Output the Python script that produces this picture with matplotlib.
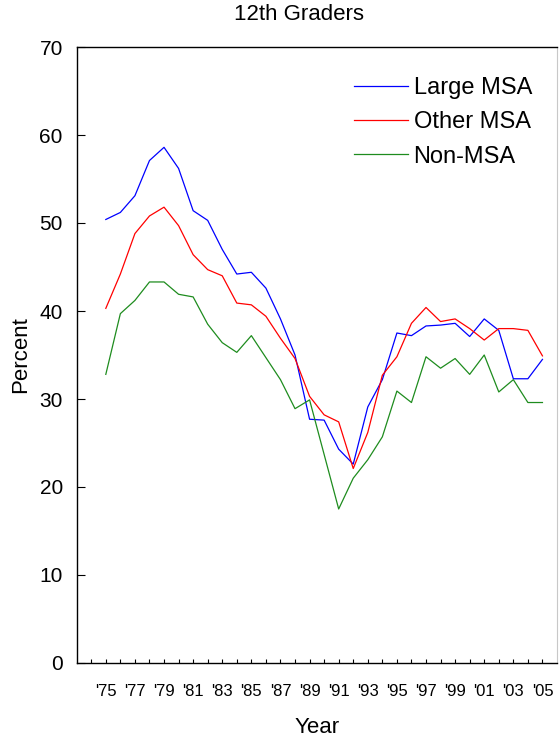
import numpy as np
import matplotlib
matplotlib.use("Agg")
import matplotlib.pyplot as plt
from matplotlib.ticker import MultipleLocator, FixedLocator

plt.rcParams["font.family"] = ["Liberation Sans", "DejaVu Sans"]

years = list(range(1975, 2006))

large_msa = [50.4, 51.2, 53.1, 57.1, 58.6, 56.2, 51.4, 50.3, 47.0, 44.2,
             44.4, 42.6, 39.1, 35.0, 27.7, 27.6, 24.3, 22.6, 29.1, 32.2,
             37.5, 37.2, 38.3, 38.4, 38.6, 37.1, 39.1, 37.8, 32.3, 32.3,
             34.5]
other_msa = [40.3, 44.2, 48.8, 50.8, 51.8, 49.7, 46.4, 44.7, 44.0, 40.9,
             40.7, 39.4, 36.9, 34.6, 30.3, 28.2, 27.4, 22.1, 26.2, 32.7,
             34.8, 38.6, 40.4, 38.8, 39.1, 38.0, 36.7, 38.0, 38.0, 37.8,
             34.9]
non_msa = [32.8, 39.7, 41.2, 43.3, 43.3, 41.9, 41.6, 38.5, 36.4, 35.3,
           37.2, 34.7, 32.2, 28.9, 29.9, 23.7, 17.5, 21.0, 23.1, 25.7,
           30.9, 29.6, 34.8, 33.5, 34.6, 32.8, 35.0, 30.8, 32.2, 29.6,
           29.6]

series = [("Large MSA", large_msa, "#0000ff"),
          ("Other MSA", other_msa, "#ff0000"),
          ("Non-MSA", non_msa, "#1e8c1e")]

year_labels = [f"'{y % 100:02d}" for y in range(1975, 2006, 2)]

W, H = 559, 739
fig = plt.figure(figsize=(W / 100, H / 100), dpi=100)
ax = fig.add_axes([76.7 / W, 1 - 663 / H, (557 - 76.7) / W, (663 - 47) / H])

for name, vals, col in series:
    ax.plot(years, vals, color=col, lw=0.9, label=name)

ax.set_xlim(1973, 2006)
ax.set_ylim(0, 70)
ax.yaxis.set_major_locator(MultipleLocator(10))
ax.xaxis.set_major_locator(FixedLocator(range(1975, 2006, 2)))
ax.xaxis.set_minor_locator(FixedLocator(range(1974, 2006, 2)))
ax.set_xticklabels(year_labels)
ax.tick_params(axis="y", direction="in", length=6, width=0.8, labelsize=15, pad=10)
ax.tick_params(axis="x", which="both", direction="in", length=3, width=0.8,
               labelsize=12, pad=15)
for side in ("left", "bottom", "top"):
    ax.spines[side].set_linewidth(1.0)
ax.spines["right"].set_color("#c8c8c8")

ax.set_xlabel("Year", fontsize=16, labelpad=13)
ax.set_ylabel("Percent", fontsize=16, labelpad=6)
fig.text(299 / W, 1 - 15 / H, "12th Graders", fontsize=16, ha="center", va="center")

ax.legend(loc="upper left", bbox_to_anchor=(354 / W, 1 - 77 / H),
          bbox_transform=fig.transFigure, frameon=False, fontsize=17,
          handlelength=2.3, handletextpad=0.22, borderpad=0, borderaxespad=0,
          labelspacing=0.52)

fig.savefig("out.png", dpi=100)
